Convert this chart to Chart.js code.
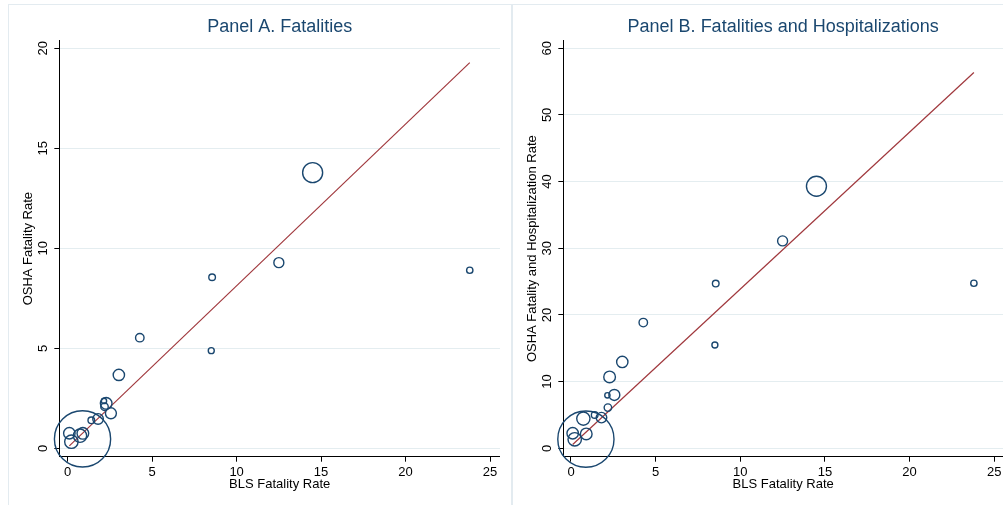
<!DOCTYPE html>
<html>
<head>
<meta charset="utf-8">
<script src="https://cdn.jsdelivr.net/npm/chart.js@4.4.1/dist/chart.umd.min.js"></script>
<style>
  html, body { margin: 0; padding: 0; background: #fff; }
  #wrap { position: relative; width: 1003px; height: 505px; overflow: hidden; }
  .frame { position: absolute; background: #e3ebf0; }
  canvas { position: absolute; top: 0; }
</style>
</head>
<body>
<div id="wrap">
  <div class="frame" style="left:8px; top:4px; width:995px; height:1px;"></div>
  <div class="frame" style="left:8px; top:4px; width:1px; height:501px;"></div>
  <div class="frame" style="left:511px; top:4px; width:2px; height:501px;"></div>
  <canvas id="panelA" width="500" height="505" style="left:0px;"></canvas>
  <canvas id="panelB" width="500" height="505" style="left:503px;"></canvas>
</div>
<script>
// BLS fatality rate per industry (x) and OSHA rates (y)
const blsRate = [14.5, 12.5, 23.8, 8.55, 8.5, 4.27, 3.03, 2.28, 2.15, 2.56, 2.18, 1.8, 1.4, 0.73, 0.9, 0.1, 0.22, 0.88];
const oshaFatal = [13.78, 9.28, 8.9, 8.55, 4.88, 5.53, 3.67, 2.25, 2.37, 1.75, 2.08, 1.47, 1.4, 0.63, 0.75, 0.75, 0.33, 0.47];
const oshaFatalHosp = [39.3, 31.1, 24.75, 24.7, 15.5, 18.85, 12.95, 10.7, 7.95, 8.0, 6.1, 4.6, 5.0, 4.45, 2.15, 2.25, 1.35, 1.37];
// employment weight -> bubble area
const empWeight = [100, 25, 10, 11, 9, 18, 32, 34, 7, 30, 14, 28, 11, 44, 34, 33, 45, 790];

// fitted line end points
const fitX = [0.1, 23.8];
const fitA = [0.12, 19.28];
const fitB = [0.56, 56.35];

const xTicks = [0, 5, 10, 15, 20, 25];
const yTicksA = [0, 5, 10, 15, 20];
const yTicksB = [0, 10, 20, 30, 40, 50, 60];

const FONT = "'Liberation Sans', Arial, Helvetica, sans-serif";
Chart.defaults.font.family = FONT;

// Stata style y labels, turned 90 degrees
const rotatedYTicks = {
  id: "rotatedYTicks",
  afterDraw(chart) {
    const ys = chart.scales.y;
    const ctx = chart.ctx;
    ctx.save();
    ctx.fillStyle = "#000";
    ctx.font = "13px " + FONT;
    ctx.textAlign = "center";
    ctx.textBaseline = "middle";
    ys.ticks.forEach(t => {
      const py = ys.getPixelForValue(t.value);
      ctx.save();
      ctx.translate(chart.chartArea.left - 15.5, py);
      ctx.rotate(-Math.PI / 2);
      ctx.fillText(String(t.value), 0, 0);
      ctx.restore();
    });
    ctx.restore();
  }
};

function makePanel(id, p) {
  const ctx = document.getElementById(id).getContext("2d");
  const bubbles = blsRate.map((x, i) => ({ x: x, y: p.yData[i], r: Math.sqrt(empWeight[i]) }));
  const fit = fitX.map((x, i) => ({ x: x, y: p.fit[i] }));

  return new Chart(ctx, {
    type: "bubble",
    data: {
      datasets: [
        {
          data: bubbles,
          backgroundColor: "rgba(0,0,0,0)",
          borderColor: "#1a476f",
          borderWidth: 1.4,
          clip: false
        },
        {
          type: "line",
          data: fit,
          borderColor: "#a0383d",
          borderWidth: 1.2,
          pointRadius: 0,
          fill: false,
          clip: false
        }
      ]
    },
    options: {
      responsive: false,
      animation: false,
      layout: { padding: 0, autoPadding: false },
      plugins: {
        legend: { display: false },
        tooltip: { enabled: false },
        title: {
          display: true,
          text: p.title,
          color: "#1a476f",
          fullSize: false,
          font: { size: 18, weight: "normal", family: FONT },
          padding: { top: 16, bottom: 3 }
        }
      },
      scales: {
        x: {
          type: "linear",
          position: "bottom",
          min: p.xMin,
          max: p.xMax,
          afterBuildTicks: s => { s.ticks = xTicks.map(v => ({ value: v })); },
          afterFit: s => {
            s.height = 48.3;
            s.paddingLeft = 0;
            s.paddingRight = 0;
          },
          ticks: { color: "#000", font: { size: 13 }, padding: 3, autoSkip: false, maxRotation: 0 },
          grid: { drawOnChartArea: false, drawTicks: true, tickLength: 5, tickColor: "#000" },
          border: { color: "#000", width: 1 },
          title: {
            display: true,
            text: "BLS Fatality Rate",
            color: "#000",
            font: { size: 13 },
            padding: { top: 0, bottom: 13 }
          }
        },
        y: {
          type: "linear",
          min: p.yMin,
          max: p.yMax,
          afterBuildTicks: s => { s.ticks = p.yTicks.map(v => ({ value: v })); },
          afterFit: s => {
            s.width = p.yWidth;
            s.paddingTop = 0;
            s.paddingBottom = 0;
          },
          ticks: { color: "rgba(0,0,0,0)", font: { size: 13 } },
          grid: { color: "#e4edf0", lineWidth: 1, drawTicks: true, tickLength: 5, tickColor: "#000" },
          border: { color: "#000", width: 1 },
          title: {
            display: true,
            text: p.yTitle,
            color: "#000",
            font: { size: 13 },
            padding: { top: p.yTitlePad, bottom: 0 }
          }
        }
      }
    },
    plugins: [rotatedYTicks]
  });
}

makePanel("panelA", {
  title: "Panel A. Fatalities",
  yTitle: "OSHA Fatality Rate",
  yData: oshaFatal,
  fit: fitA,
  yTicks: yTicksA,
  xMin: -0.493, xMax: 25.59,
  yMin: -0.42, yMax: 20.38,
  yWidth: 59.33,
  yTitlePad: 20.5
});

makePanel("panelB", {
  title: "Panel B. Fatalities and Hospitalizations",
  yTitle: "OSHA Fatality and Hospitalization Rate",
  yData: oshaFatalHosp,
  fit: fitB,
  yTicks: yTicksB,
  xMin: -0.453, xMax: 25.52,
  yMin: -1.26, yMax: 61.14,
  yWidth: 60.33,
  yTitlePad: 21.5
});
</script>
</body>
</html>
